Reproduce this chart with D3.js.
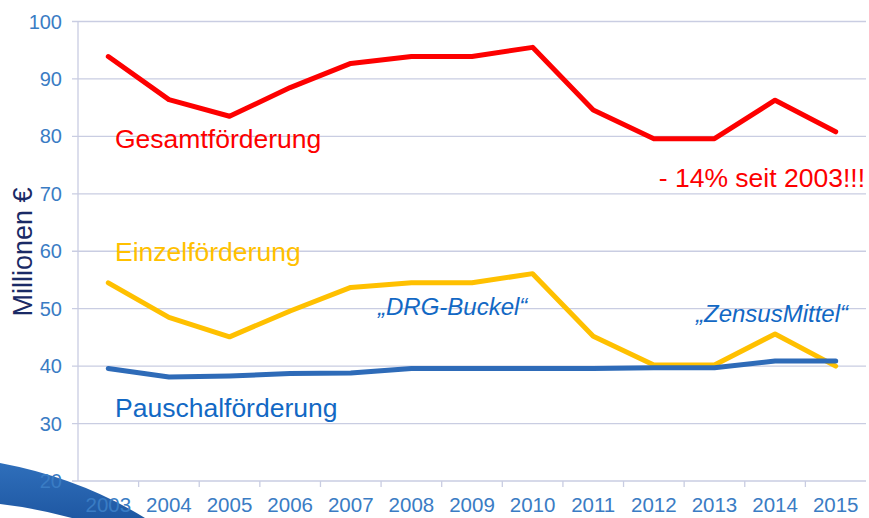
<!DOCTYPE html>
<html>
<head>
<meta charset="UTF-8">
<title>Förderung</title>
<script src="https://d3js.org/d3.v7.min.js"></script>
<style>
  body { margin: 0; background: #fff; }
  svg { display: block; font-family: "Liberation Sans", Arial, sans-serif; }
</style>
</head>
<body>
<svg width="869" height="518"></svg>
<script>
// data
const years = ["2003","2004","2005","2006","2007","2008","2009","2010","2011","2012","2013","2014","2015"];
const gesamt = [93.9, 86.4, 83.5, 88.5, 92.7, 93.9, 93.9, 95.5, 84.6, 79.6, 79.6, 86.3, 80.8];
const einzel = [54.5, 48.5, 45.1, 49.6, 53.7, 54.5, 54.5, 56.1, 45.2, 40.2, 40.2, 45.6, 40.0];
const pauschal = [39.6, 38.1, 38.3, 38.7, 38.8, 39.6, 39.6, 39.6, 39.6, 39.7, 39.7, 40.9, 40.9];
const yTicks = [20, 30, 40, 50, 60, 70, 80, 90, 100];

const svg = d3.select("svg");

const x = d3.scaleBand().domain(years).range([78, 866]);
const y = d3.scaleLinear().domain([20, 100]).range([481, 21.5]);

// decorative swoosh bottom-left
const grad = svg.append("defs").append("linearGradient")
    .attr("id", "sw").attr("x1", 0).attr("y1", 0).attr("x2", 0).attr("y2", 1);
grad.append("stop").attr("offset", "0%").attr("stop-color", "#2f6fbb");
grad.append("stop").attr("offset", "100%").attr("stop-color", "#1f58a3");

svg.append("path")
    .attr("d", "M0,463 Q80,478 145,518 L72,518 Q35,508 0,504 Z")
    .attr("fill", "url(#sw)");

// gridlines
svg.append("g")
    .selectAll("line")
    .data(yTicks)
    .join("line")
    .attr("x1", 72).attr("x2", 866)
    .attr("y1", d => y(d)).attr("y2", d => y(d))
    .attr("stroke", "#c9cde2").attr("stroke-width", 1.3);

// y axis line
svg.append("line")
    .attr("x1", 78).attr("x2", 78)
    .attr("y1", y(100)).attr("y2", y(20))
    .attr("stroke", "#c9cde2").attr("stroke-width", 1.3);

// x ticks between categories
svg.append("g")
    .selectAll("line")
    .data(years.slice(1))
    .join("line")
    .attr("x1", d => x(d)).attr("x2", d => x(d))
    .attr("y1", y(20)).attr("y2", y(20) + 6)
    .attr("stroke", "#c9cde2").attr("stroke-width", 1.3);

// y tick labels
svg.append("g")
    .selectAll("text")
    .data(yTicks)
    .join("text")
    .attr("x", 62)
    .attr("y", d => y(d) + 7)
    .attr("text-anchor", "end")
    .attr("font-size", 20)
    .attr("fill", "#3a7cc4")
    .text(d => d);

// x tick labels
svg.append("g")
    .selectAll("text")
    .data(years)
    .join("text")
    .attr("x", d => x(d) + x.bandwidth() / 2)
    .attr("y", 512)
    .attr("text-anchor", "middle")
    .attr("font-size", 20.5)
    .attr("fill", "#3a7cc4")
    .text(d => d);

// axis title
svg.append("text")
    .attr("transform", "translate(32,252) rotate(-90)")
    .attr("text-anchor", "middle")
    .attr("font-size", 27)
    .attr("fill", "#1a2a66")
    .text("Millionen €");

// lines
const line = d3.line()
    .x((d, i) => x(years[i]) + x.bandwidth() / 2)
    .y(d => y(d));

const series = [
    { values: gesamt, color: "#fd0000" },
    { values: einzel, color: "#ffc000" },
    { values: pauschal, color: "#2e6bb8" }
];

svg.append("g")
    .selectAll("path")
    .data(series)
    .join("path")
    .attr("d", d => line(d.values))
    .attr("fill", "none")
    .attr("stroke", d => d.color)
    .attr("stroke-width", 5)
    .attr("stroke-linejoin", "round")
    .attr("stroke-linecap", "round");

// labels
svg.append("text").attr("x", 115).attr("y", 148).attr("font-size", 26.5)
    .attr("fill", "#fd0000").text("Gesamtförderung");
svg.append("text").attr("x", 865).attr("y", 187).attr("font-size", 26.5)
    .attr("text-anchor", "end").attr("fill", "#fd0000").text("- 14% seit 2003!!!");
svg.append("text").attr("x", 115).attr("y", 261).attr("font-size", 26.5)
    .attr("fill", "#ffc000").text("Einzelförderung");
svg.append("text").attr("x", 115).attr("y", 417).attr("font-size", 26.5)
    .attr("fill", "#1268c4").text("Pauschalförderung");
svg.append("text").attr("x", 378).attr("y", 315).attr("font-size", 24)
    .attr("font-style", "italic").attr("fill", "#1268c4").text("„DRG-Buckel“");
svg.append("text").attr("x", 696).attr("y", 322).attr("font-size", 24)
    .attr("font-style", "italic").attr("fill", "#1268c4").text("„ZensusMittel“");
</script>
</body>
</html>
